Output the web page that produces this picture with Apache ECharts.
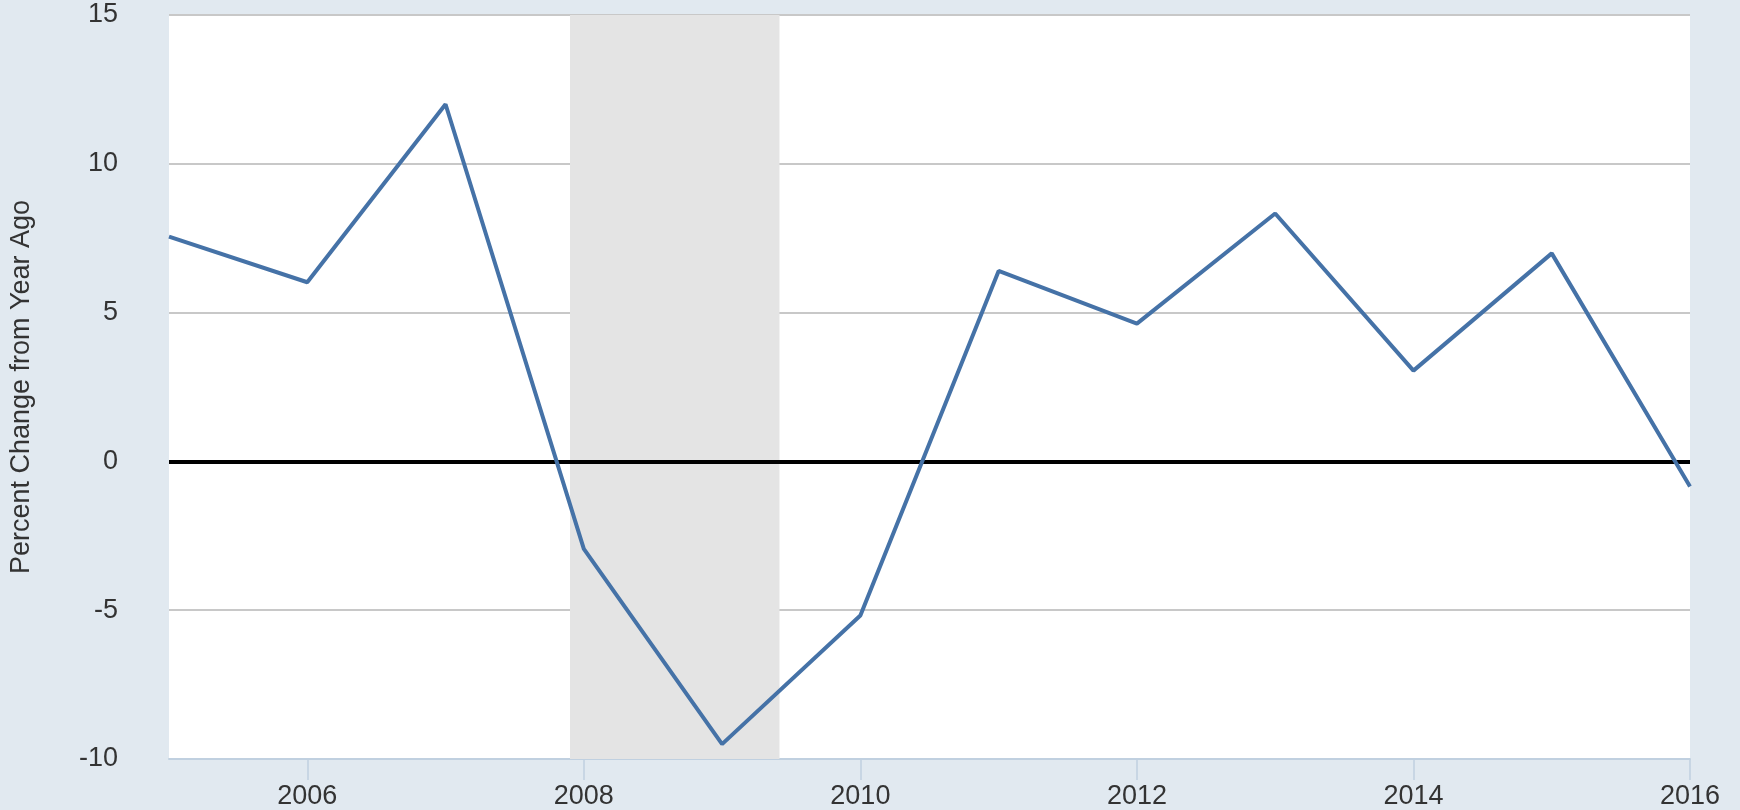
<!DOCTYPE html>
<html>
<head>
<meta charset="utf-8">
<script src="https://cdn.jsdelivr.net/npm/echarts@6/dist/echarts.min.js"></script>
<style>
  html, body { margin: 0; padding: 0; background: #e1e9f0; }
  #chart { width: 1740px; height: 810px; }
</style>
</head>
<body>
<div id="chart"></div>
<script>
// years (Jan 1 of each year)
const years = [2005, 2006, 2007, 2008, 2009, 2010, 2011, 2012, 2013, 2014, 2015, 2016]
// percent change from year ago
const values = [7.55, 6.02, 12.0, -2.94, -9.5, -5.18, 6.4, 4.63, 8.33, 3.05, 6.99, -0.84]
// x-axis tick labels
const xTicks = [2006, 2008, 2010, 2012, 2014, 2016]
// recession band (Dec 2007 - Jun 2009, as decimal years)
const recession = [2007.9, 2009.415]
// y range
const yMin = -10
const yMax = 15

const chart = echarts.init(document.getElementById('chart'))

const fontFamily = '"Liberation Sans", Arial, sans-serif'

const option = {
  backgroundColor: '#e1e9f0',
  animation: false,
  textStyle: { fontFamily: fontFamily },
  grid: {
    left: 169,
    right: 50,
    top: 15,
    bottom: 51,
    show: true,
    backgroundColor: '#ffffff',
    borderWidth: 0,
    containLabel: false,
    outerBoundsMode: 'none'
  },
  xAxis: {
    type: 'value',
    min: 2005,
    max: 2016,
    axisLine: { show: true, onZero: false, lineStyle: { color: '#c0d0e0', width: 2 } },
    axisTick: {
      show: true,
      length: 21,
      customValues: xTicks,
      lineStyle: { color: '#c0d0e0', width: 1.5 }
    },
    axisLabel: {
      customValues: xTicks,
      margin: 24,
      fontSize: 27,
      color: '#333333',
      fontFamily: fontFamily,
      formatter: (v) => String(v)
    },
    splitLine: { show: false }
  },
  yAxis: {
    type: 'value',
    min: yMin,
    max: yMax,
    interval: 5,
    name: 'Percent Change from Year Ago',
    nameLocation: 'middle',
    nameRotate: 90,
    nameGap: 134,
    nameTextStyle: { fontSize: 27, color: '#333333', fontFamily: fontFamily },
    axisLine: { show: false, onZero: false },
    axisTick: { show: false },
    axisLabel: {
      margin: 51,
      fontSize: 27,
      color: '#333333',
      fontFamily: fontFamily
    },
    splitLine: { show: true, lineStyle: { color: '#c8c8c8', width: 2 } }
  },
  series: [
    {
      // recession shading
      type: 'line',
      data: [],
      z: 1,
      markArea: {
        silent: true,
        itemStyle: { color: '#e4e4e4', borderWidth: 0 },
        data: [[
          { xAxis: recession[0], yAxis: yMin },
          { xAxis: recession[1], yAxis: yMax }
        ]]
      }
    },
    {
      // zero line
      type: 'line',
      data: [],
      z: 3,
      markLine: {
        silent: true,
        symbol: 'none',
        label: { show: false },
        emphasis: { disabled: true },
        lineStyle: { color: '#000000', width: 4, type: 'solid' },
        data: [{ yAxis: 0 }]
      }
    },
    {
      type: 'line',
      data: years.map((y, i) => [y, values[i]]),
      showSymbol: false,
      lineStyle: { color: '#4572a7', width: 4 },
      z: 5
    }
  ]
}

chart.setOption(option)
</script>
</body>
</html>
